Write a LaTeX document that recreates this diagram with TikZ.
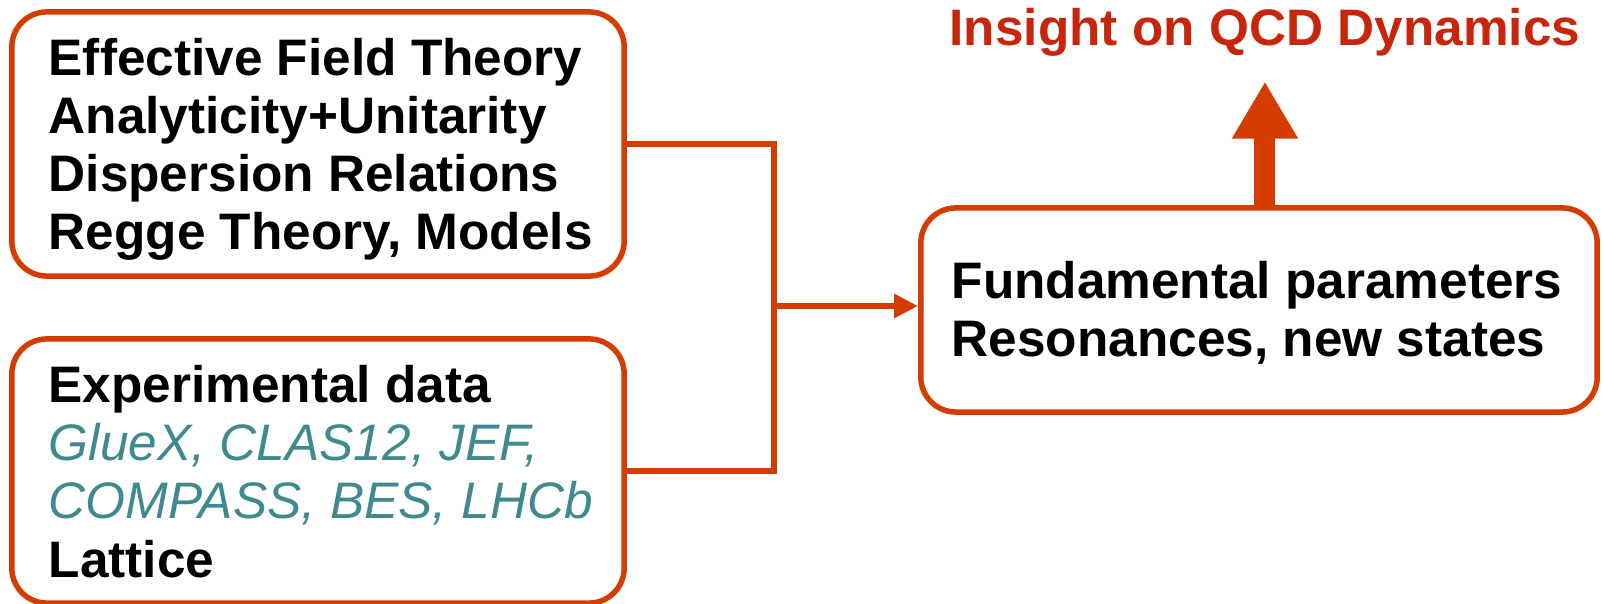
\documentclass[tikz,border=0pt]{standalone}
\usepackage{fontspec}
\setmainfont{Liberation Sans}
\usetikzlibrary{arrows.meta}

\definecolor{framered}{RGB}{212,60,0}
\definecolor{titlered}{RGB}{200,38,12}
\definecolor{exptteal}{RGB}{62,138,143}

\tikzset{
  roundbox/.style={draw=framered, line width=0.055cm, rounded corners=0.35cm,
    minimum width=6.12cm, minimum height=2.64cm, inner sep=0},
  txt/.style={anchor=base west, inner sep=0, align=left,
    font=\fontsize{14.6pt}{16.5pt}\selectfont\bfseries},
  link/.style={draw=framered, line width=0.06cm}
}

\begin{document}
\begin{tikzpicture}[x=0.01cm, y=-0.01cm]
\useasboundingbox (0,0) rectangle (1604,604);

%theory and data (text placed by its last baseline)
\node[roundbox] (theory) at (318,144) {};
\node[roundbox] (data) at (318,471) {};
\node[txt] (theorytext) at (48,250) {Effective Field Theory\\Analyticity+Unitarity\\Dispersion Relations\\Regge Theory, Models};
\node[txt] (datatext) at (48,577) {Experimental data\\
  {\mdseries\itshape\color{exptteal}GlueX, CLAS12, JEF,}\\
  {\mdseries\itshape\color{exptteal}COMPASS, BES, LHCb}\\
  Lattice};

%results
\node[roundbox, minimum width=6.76cm, minimum height=2.04cm] (result) at (1259,310) {};
\node[txt] (resulttext) at (951,357) {Fundamental parameters\\Resonances, new states};
\node[txt, text=titlered] (insight) at (949,46) {Insight on QCD Dynamics};

%connectors
\coordinate (bus) at (774,306);
\draw[link] (theory.east) -| (bus) |- (data.east);
\draw[link, -{Triangle[length=0.24cm, width=0.23cm]}] (bus) -- (bus -| result.west);
\draw[link, line width=0.21cm, -{Triangle[length=0.57cm, width=0.62cm]}, shorten >=0.24cm]
  (result.north -| insight.south) -- (insight.south);
\end{tikzpicture}
\end{document}
